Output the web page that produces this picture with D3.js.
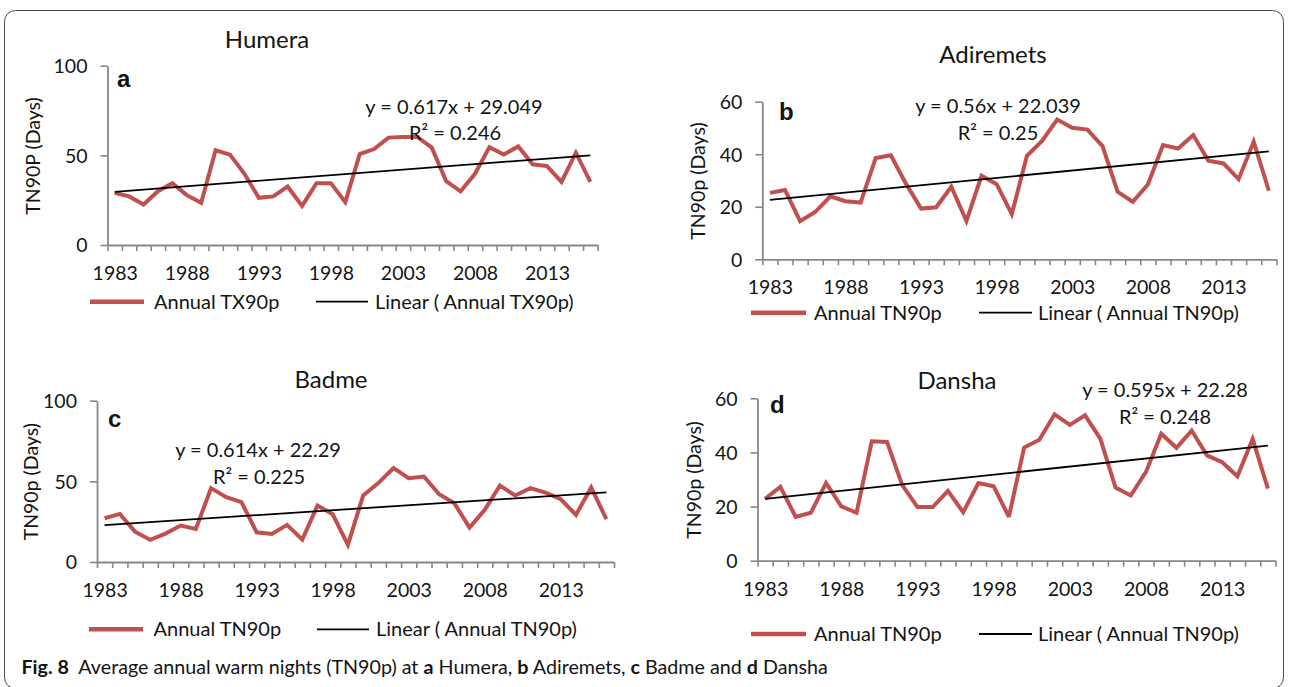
<!DOCTYPE html>
<html>
<head>
<meta charset="utf-8">
<script src="https://cdn.jsdelivr.net/npm/d3@7"></script>
<style>
  html, body { margin: 0; padding: 0; background: #fff; }
  svg text { font-family: Lato, "Open Sans", sans-serif; fill: #141414; }
</style>
</head>
<body>
<svg id="chart" width="1290" height="687"></svg>
<script>
// ---- data ----
const years = [1983, 1984, 1985, 1986, 1987, 1988, 1989, 1990, 1991, 1992,
               1993, 1994, 1995, 1996, 1997, 1998, 1999, 2000, 2001, 2002,
               2003, 2004, 2005, 2006, 2007, 2008, 2009, 2010, 2011, 2012,
               2013, 2014, 2015, 2016];
const tickYears = [1983, 1988, 1993, 1998, 2003, 2008, 2013];

const stations = ["Humera", "Adiremets", "Badme", "Dansha"];
const panelLetters = ["a", "b", "c", "d"];
const seriesNames = ["Annual TX90p", "Annual TN90p", "Annual TN90p", "Annual TN90p"];
const yAxisTitles = ["TN90P (Days)", "TN90p (Days)", "TN90p (Days)", "TN90p (Days)"];

const humeraTX90p = [29.1, 27.1, 22.6, 30.0, 34.5, 27.8, 23.5, 52.8, 50.4, 39.7,
                     26.3, 27.1, 32.6, 21.8, 34.5, 34.5, 23.9, 50.7, 53.5, 59.9,
                     60.3, 60.3, 54.3, 35.6, 29.9, 39.7, 54.6, 50.5, 55.0, 45.0,
                     44.0, 35.2, 51.5, 35.2];
const adiremetsTN90p = [25.3, 26.4, 14.5, 18.0, 24.0, 22.1, 21.6, 38.6, 39.6, 28.8,
                        19.3, 19.8, 27.6, 14.6, 31.8, 28.6, 17.2, 39.4, 45.1, 53.2,
                        50.1, 49.4, 43.1, 25.7, 21.9, 28.5, 43.5, 42.2, 47.3, 37.5,
                        36.5, 30.5, 44.8, 26.1];
const badmeTN90p = [27.1, 29.8, 18.8, 13.7, 17.6, 22.6, 20.5, 45.8, 40.2, 37.1,
                    18.4, 17.4, 23.0, 13.9, 35.0, 29.6, 10.6, 41.2, 48.9, 58.2,
                    52.0, 53.0, 42.0, 36.4, 21.3, 32.3, 47.4, 41.2, 45.8, 43.0,
                    38.9, 29.2, 46.2, 26.5];
const danshaTN90p = [22.9, 27.3, 16.2, 17.7, 28.7, 20.1, 17.7, 44.1, 43.9, 27.9,
                     19.8, 19.8, 25.8, 17.9, 28.7, 27.5, 16.2, 41.8, 44.7, 54.1,
                     50.2, 53.7, 45.1, 27.0, 24.1, 32.8, 46.9, 41.7, 48.1, 38.9,
                     36.4, 31.2, 45.0, 26.6];

// linear fits (x = 1 … 34)
const trendSlopes = [0.617, 0.56, 0.614, 0.595];
const trendIntercepts = [29.049, 22.039, 22.29, 22.28];
const rSquared = [0.246, 0.25, 0.225, 0.248];

const yAxisMax = [100, 60, 100, 60];
const yTickValues = [[0, 50, 100], [0, 20, 40, 60], [0, 50, 100], [0, 20, 40, 60]];

const seriesValues = [humeraTX90p, adiremetsTN90p, badmeTN90p, danshaTN90p];

// ---- layout of the four panels ----
const layout = [
  { left: 107.5, right: 597.5, bottom: 245, top: 65.7,
    title: [267, 40], ylab: [33, 156], letter: [117, 87],
    eq: [454, 107], r2: [455, 133],
    legY: 301.7, leg: [90, 144, 154, 316, 368, 375] },
  { left: 762.3, right: 1276.4, bottom: 259.3, top: 101.7,
    title: [993, 55], ylab: [698, 181], letter: [779, 120],
    eq: [998, 106], r2: [998, 132.5],
    legY: 312.7, leg: [751, 806, 814, 979, 1032, 1038] },
  { left: 97, right: 614, bottom: 562, top: 400.7,
    title: [331, 380], ylab: [31, 481.7], letter: [108, 426.7],
    eq: [258, 450], r2: [259, 476.5],
    legY: 629.3, leg: [89, 143, 153.5, 317, 369, 376] },
  { left: 757.5, right: 1275.5, bottom: 560.7, top: 398.3,
    title: [957, 381], ylab: [694, 480], letter: [770, 413.3],
    eq: [1165, 390], r2: [1165, 417],
    legY: 634, leg: [751, 806, 814, 979, 1032, 1038] }
];

const RED = "#C0504D";
const AXIS = "#878787";
const FS_TICK = 19.5;
const FS = 20;

const svg = d3.select("#chart");

// figure frame
svg.append("rect")
  .attr("x", 4.5).attr("y", 10.5)
  .attr("width", 1279).attr("height", 678)
  .attr("rx", 11).attr("ry", 11)
  .attr("fill", "none").attr("stroke", "#4a4a4a").attr("stroke-width", 1);

stations.forEach((name, p) => {
  const L = layout[p];
  const values = seriesValues[p];
  const g = svg.append("g");

  const x = d3.scaleBand().domain(years).range([L.left, L.right]).padding(0);
  const xEdge = d3.scaleLinear().domain([0, years.length]).range([L.left, L.right]);
  const y = d3.scaleLinear().domain([0, yAxisMax[p]]).range([L.bottom, L.top]);
  const cx = yr => x(yr) + x.bandwidth() / 2;

  // y axis
  const ya = g.append("g")
    .attr("transform", `translate(${L.left},0)`)
    .call(d3.axisLeft(y).tickValues(yTickValues[p]).tickSize(7).tickSizeOuter(0));
  ya.selectAll("text").attr("x", -20).attr("dy", "0.35em")
    .style("font-size", FS_TICK + "px").style("font-family", "Lato, sans-serif").attr("fill", "#141414");

  // x axis: tick marks between categories
  const xt = g.append("g")
    .attr("transform", `translate(0,${L.bottom})`)
    .call(d3.axisBottom(xEdge).tickValues(d3.range(years.length + 1)).tickSize(6)
      .tickSizeOuter(0).tickFormat(""));
  // x axis labels at category centres
  const xl = g.append("g")
    .attr("transform", `translate(${x.bandwidth() / 2},${L.bottom})`)
    .call(d3.axisBottom(d3.scalePoint().domain(years).range([L.left, L.left + x.step() * (years.length - 1)]))
      .tickValues(tickYears).tickSize(0));
  xl.select(".domain").remove();
  xl.selectAll("text").attr("y", 28).attr("dy", "0.35em")
    .style("font-size", FS_TICK + "px").style("font-family", "Lato, sans-serif").attr("fill", "#141414");

  [ya, xt].forEach(a => {
    a.select(".domain").attr("stroke", AXIS).attr("stroke-width", 1.8);
    a.selectAll(".tick line").attr("stroke", AXIS).attr("stroke-width", 1.6);
  });

  // series line
  g.append("path")
    .datum(values.map((v, i) => [years[i], v]))
    .attr("fill", "none").attr("stroke", RED).attr("stroke-width", 4)
    .attr("stroke-linejoin", "miter").attr("stroke-miterlimit", 3)
    .attr("d", d3.line().x(d => cx(d[0])).y(d => y(d[1])));

  // linear trend
  const n = years.length;
  const trendPts = [1, n].map(k => [years[k - 1], trendSlopes[p] * k + trendIntercepts[p]]);
  g.append("path")
    .datum(trendPts)
    .attr("fill", "none").attr("stroke", "#000").attr("stroke-width", 1.8)
    .attr("d", d3.line().x(d => cx(d[0])).y(d => y(d[1])));

  // station title
  g.append("text").attr("x", L.title[0]).attr("y", L.title[1]).attr("dy", "0.35em")
    .attr("text-anchor", "middle").style("font-size", "24px").text(name);

  // y axis title
  g.append("text")
    .attr("transform", `translate(${L.ylab[0]},${L.ylab[1]}) rotate(-90)`)
    .attr("dy", "0.35em").attr("text-anchor", "middle")
    .style("font-size", "19.5px").text(yAxisTitles[p]);

  // panel letter
  g.append("text").attr("x", L.letter[0]).attr("y", L.letter[1])
    .style("font-family", "'Liberation Sans', Arial, sans-serif")
    .style("font-weight", "bold").style("font-size", "24px").text(panelLetters[p]);

  // fit equation and R²
  g.append("text").attr("x", L.eq[0]).attr("y", L.eq[1]).attr("dy", "0.35em")
    .attr("text-anchor", "middle").style("font-size", FS + "px")
    .text(`y = ${trendSlopes[p]}x + ${trendIntercepts[p]}`);
  g.append("text").attr("x", L.r2[0]).attr("y", L.r2[1]).attr("dy", "0.35em")
    .attr("text-anchor", "middle").style("font-size", FS + "px")
    .text(`R² = ${rSquared[p]}`);

  // legend
  const lg = L.leg;
  g.append("line").attr("x1", lg[0]).attr("x2", lg[1]).attr("y1", L.legY).attr("y2", L.legY)
    .attr("stroke", RED).attr("stroke-width", 4.5);
  g.append("text").attr("x", lg[2]).attr("y", L.legY).attr("dy", "0.35em")
    .style("font-size", FS + "px").text(seriesNames[p]);
  g.append("line").attr("x1", lg[3]).attr("x2", lg[4]).attr("y1", L.legY).attr("y2", L.legY)
    .attr("stroke", "#000").attr("stroke-width", 1.8);
  g.append("text").attr("x", lg[5]).attr("y", L.legY).attr("dy", "0.35em")
    .style("font-size", FS + "px").text(`Linear ( ${seriesNames[p]})`);
});

// caption
const cap = svg.append("text").attr("x", 21.5).attr("y", 673.5)
  .style("font-size", "19.7px").attr("fill", "#231f20");
const capParts = [
  ["Fig. 8", true], ["  Average annual warm nights (TN90p) at ", false],
  ["a", true], [" Humera, ", false], ["b", true], [" Adiremets, ", false],
  ["c", true], [" Badme and ", false], ["d", true], [" Dansha", false]
];
capParts.forEach(([t, b]) => {
  cap.append("tspan").attr("font-weight", b ? "bold" : "normal")
    .attr("xml:space", "preserve").style("white-space", "pre").text(t);
});
</script>
</body>
</html>
